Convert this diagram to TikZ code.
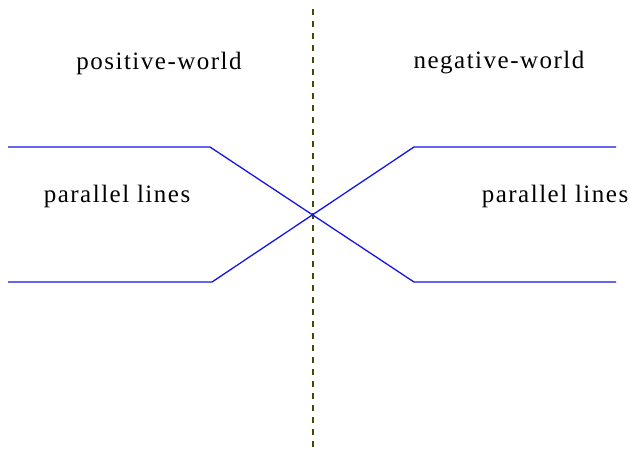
\documentclass[tikz,border=0pt]{standalone}
\usepackage{fontspec}
\setmainfont{Liberation Serif}
\begin{document}
\begin{tikzpicture}[x=1pt,y=-1pt,
  blueline/.style={draw={rgb,255:red,20;green,20;blue,235},line width=1.3pt},
  divider/.style={draw={rgb,255:red,70;green,70;blue,10},line width=1.4pt,dash pattern=on 6pt off 6pt},
  label/.style={inner sep=0pt,font=\fontsize{25}{30}\selectfont\addfontfeature{LetterSpace=6}}]
\useasboundingbox[fill=white] (0,0) rectangle (630,450);
% divider
\coordinate (dtop) at (313,9);
\coordinate (dbot) at (313,450);
\draw[divider] (dtop) -- (dbot);
% line endpoints
\coordinate (tl0) at (8,147);
\coordinate (tl1) at (210,147);
\coordinate (bl0) at (8,282);
\coordinate (bl1) at (212,282);
\coordinate (tr1) at (414,147);
\coordinate (tr0) at (616,147);
\coordinate (br1) at (414,282);
\coordinate (br0) at (616,282);
\draw[blueline] (tl0) -- (tl1) -- (br1) -- (br0);
\draw[blueline] (bl0) -- (bl1) -- (tr1) -- (tr0);
% labels
\node[label] (pw) at (159,63) {positive-world};
\node[label] (nw) at (499,63) {negative-world};
\node[label] (pl) at (117,196) {parallel lines};
\node[label] (pr) at (555,196) {parallel lines};
\end{tikzpicture}
\end{document}
